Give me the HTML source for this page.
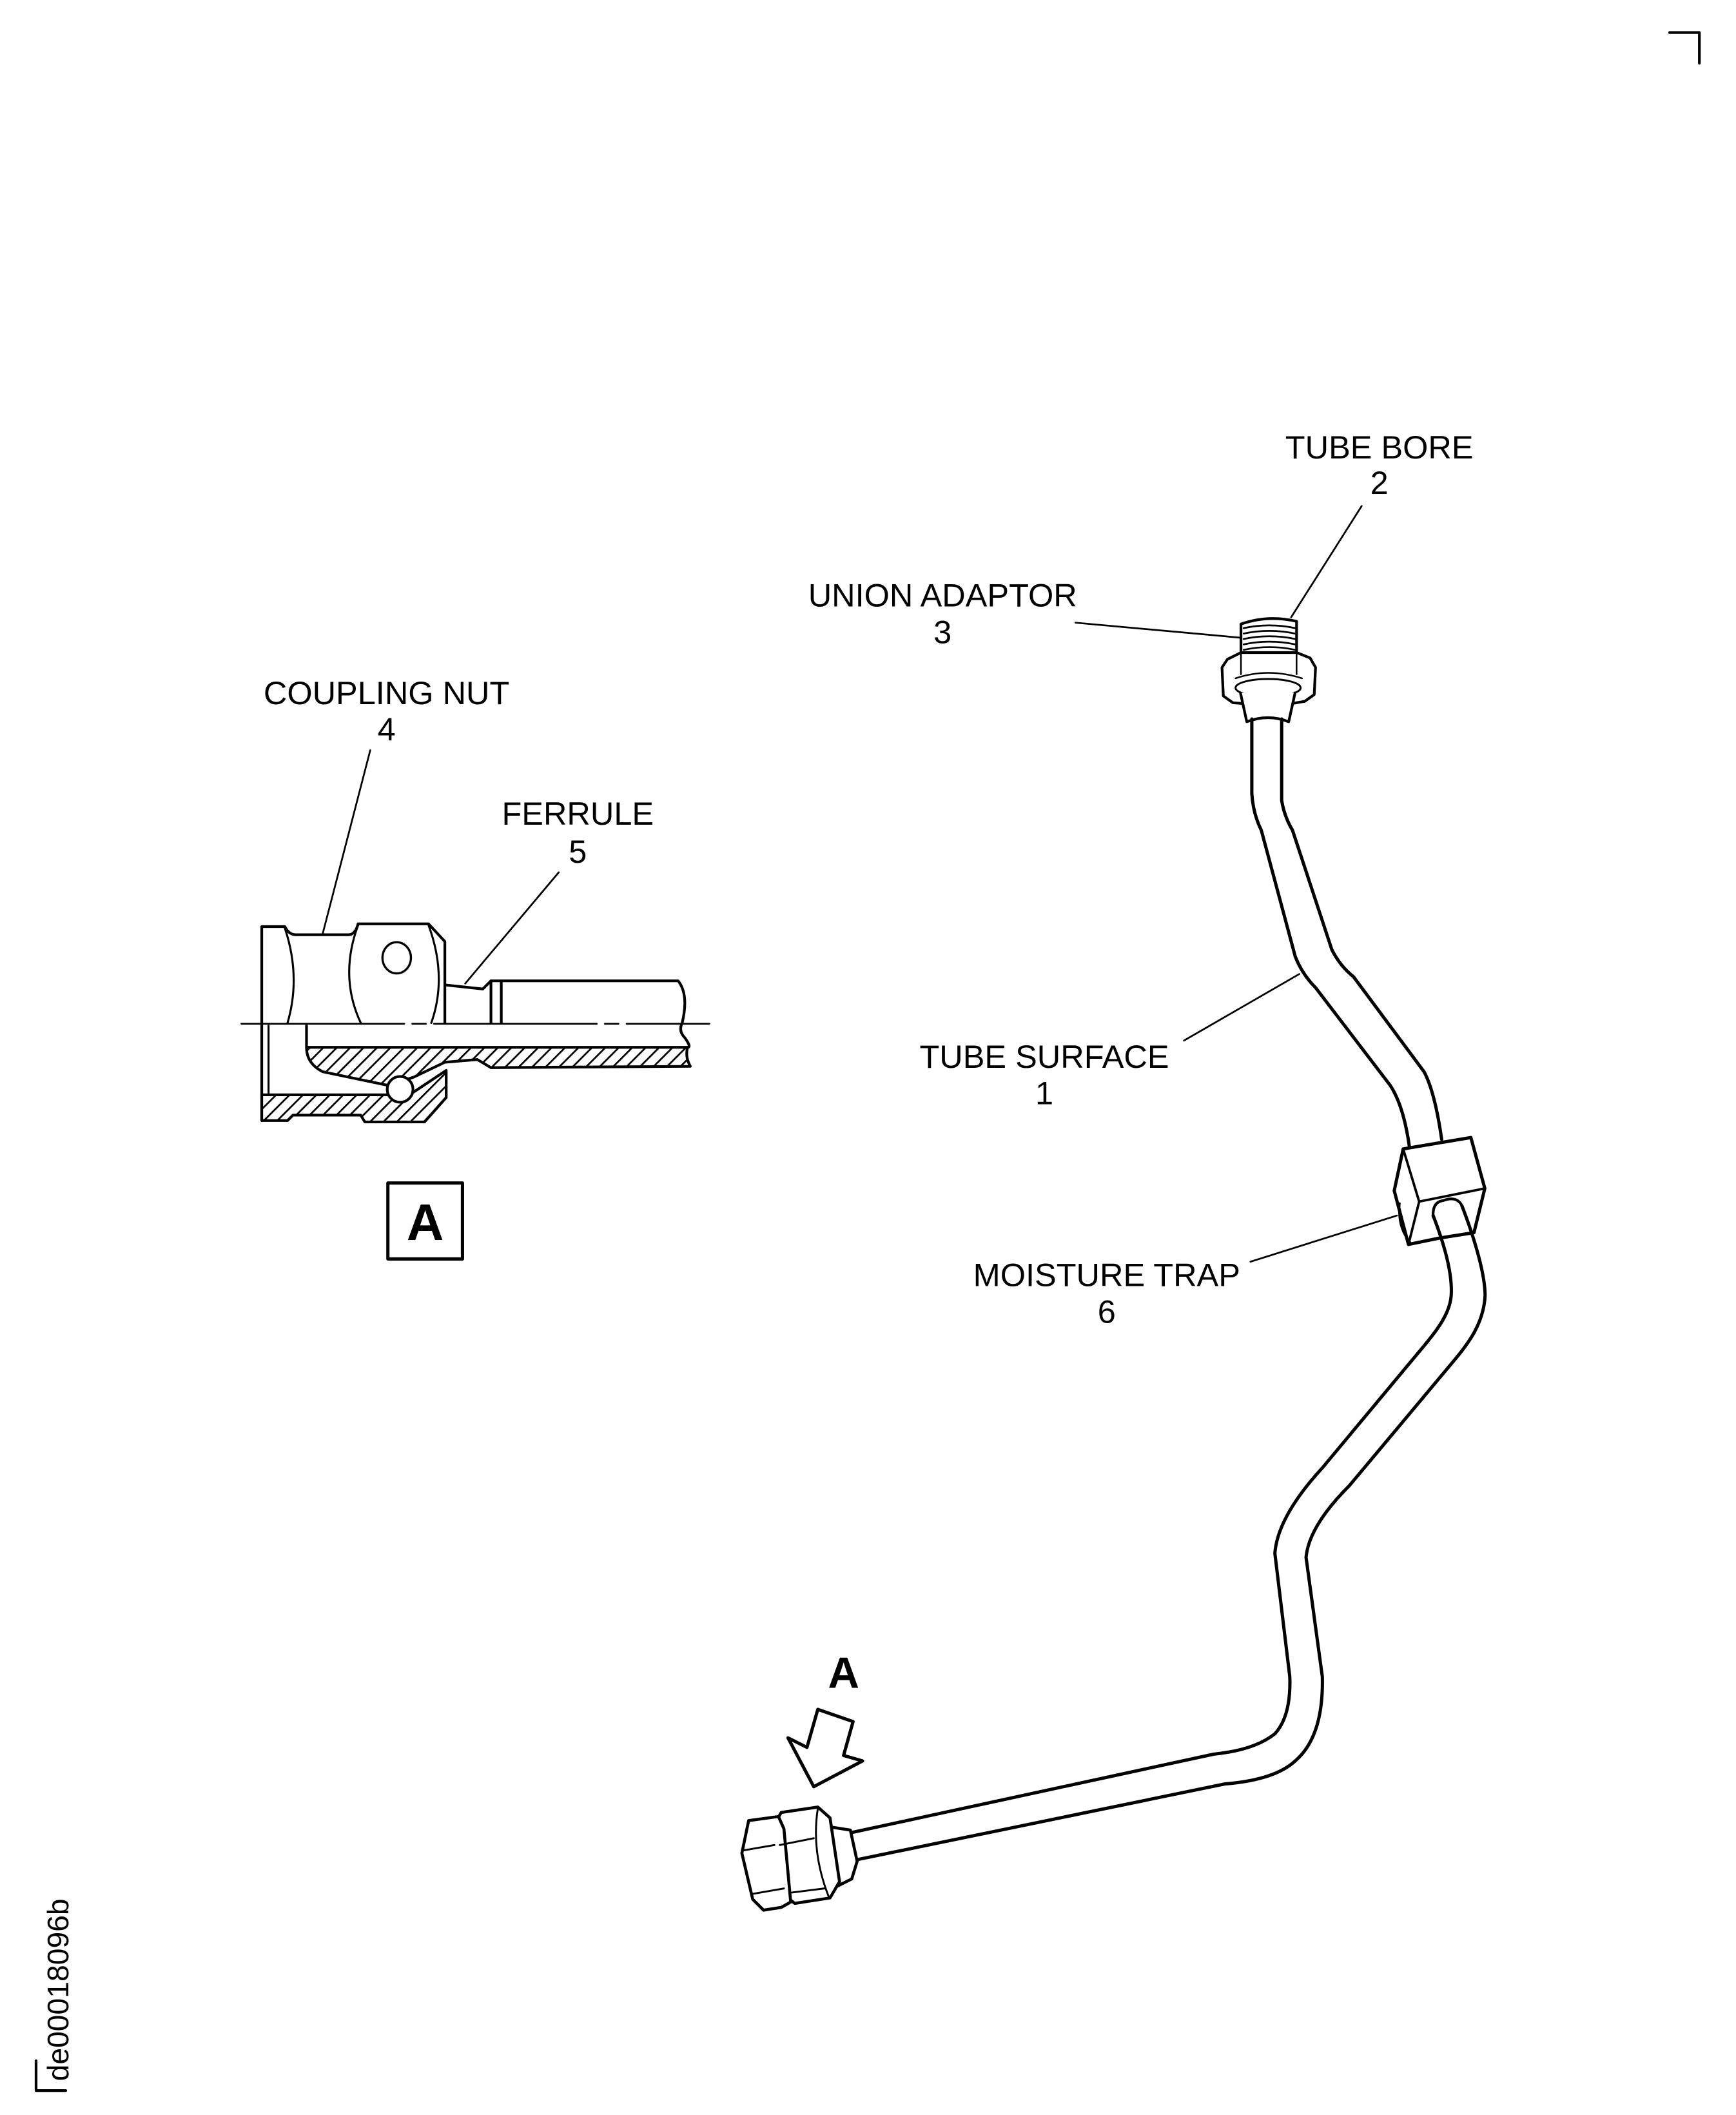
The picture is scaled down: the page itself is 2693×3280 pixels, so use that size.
<!DOCTYPE html>
<html><head><meta charset="utf-8"><style>
html,body{margin:0;padding:0;background:#fff}
svg{display:block}
text{font-family:"Liberation Sans",Arial,sans-serif;fill:#000}
</style></head><body>
<svg xmlns="http://www.w3.org/2000/svg" width="2693" height="3280" viewBox="0 0 1280 1559">
<defs>
<pattern id="h" patternUnits="userSpaceOnUse" width="7" height="7" patternTransform="rotate(45)">
<rect width="7" height="7" fill="#fff"/><line x1="0" y1="0" x2="0" y2="7" stroke="#000" stroke-width="2.6"/>
</pattern>
</defs>
<g fill="none" stroke="#000" stroke-linejoin="round" stroke-linecap="round">
<!-- corner marks -->
<path d="M1231,24 H1253 V46.6" stroke-width="2"/>
<path d="M26.6,1519 V1541 H48.5" stroke-width="2"/>

<!-- leader lines -->
<g stroke-width="1.3">
<line x1="1004" y1="373" x2="952" y2="455"/>
<line x1="793" y1="459" x2="914" y2="470"/>
<line x1="273" y1="553" x2="238" y2="688"/>
<line x1="412" y1="643" x2="343" y2="725"/>
<line x1="873" y1="767" x2="958" y2="718"/>
<line x1="922" y1="930" x2="1030" y2="896"/>
</g>

<!-- DETAIL A -->
<g stroke-width="2">
<path d="M193,754 V683 H210 Q213,689 218,689 H257 Q262,689 264,681 H316 L328,694 V754"/>
<path d="M328,726 L356,729 L362,723 H500 Q508,733 503,754"/>
<line x1="362" y1="723" x2="362" y2="754"/>
<line x1="369.6" y1="723" x2="369.6" y2="754"/>
<path d="M210,684 Q222,720 212,754" stroke-width="1.5"/>
<path d="M264,682 Q250,720 266,754" stroke-width="1.5"/>
<path d="M316,682 Q330,720 318,754" stroke-width="1.5"/>
<line x1="178" y1="754.6" x2="523" y2="754.6" stroke-width="1.3" stroke-dasharray="120 6 10 6"/>
<path d="M193,754 V826" />
<line x1="198" y1="756" x2="198" y2="807" stroke-width="1.5"/>
<path d="M226,756 V772"/>
<path d="M226,772 L507,772 Q505,779 509,786 L362,787 L352,781 L328,783 L305,794 L286,800 L238,790 Q226,784 226,772 Z" fill="url(#h)"/>
<path d="M193,807 L285,807 L305,805 L329,789 L329,809 L313,827 L269,827 L266,822 L216,822 L212,826 L193,826 Z" fill="url(#h)"/>
<circle cx="295" cy="803" r="9.5" fill="#fff"/>
<ellipse cx="292.5" cy="706" rx="10.5" ry="11.5" stroke-width="1.6"/>
<path d="M503,754 Q500,760 505,765 Q510,772 507,772"/>
<rect x="286" y="872" width="55" height="56" stroke-width="2.4"/>
</g>

<!-- UNION ADAPTOR top fitting -->
<g stroke-width="2">
<path d="M915,480 V460 Q935,453 956,458 V480"/>
<g stroke-width="1.3">
<path d="M917,463 Q936,459 955,463"/><path d="M917,467 Q936,463 955,467"/>
<path d="M917,471 Q936,467 955,471"/><path d="M917,475 Q936,471 955,475"/>
<path d="M917,479 Q936,475 955,479"/>
</g>
<path d="M901,492 L905,486 L915,481 H956 L966,485 L970,492 L969,512 L962,517 L950,519 H922 L909,518 L902,513 Z" fill="#fff"/>
<line x1="915" y1="482" x2="915" y2="497" stroke-width="1.2"/>
<line x1="956" y1="482" x2="956" y2="497" stroke-width="1.2"/>
<path d="M911,500 Q935,492 960,500" stroke-width="1.2"/>
<ellipse cx="935" cy="507" rx="24" ry="6.5" stroke-width="1.4"/>
<path d="M914.6,510.7 L919.3,532 Q935,526 950.2,532 L954.9,510.7" fill="#fff"/>
</g>

<!-- TUBE upper -->
<g stroke-width="2.4">
<path d="M923,530 V585 Q924,600 930,612 L955,705 Q960,718 970,728 L1025,800 Q1035,815 1039.3,846"/>
<path d="M945,530 V590 Q947,602 953,612 L982,700 Q988,712 998,720 L1050,790 Q1058,805 1063,840"/>
</g>

<!-- MOISTURE TRAP -->
<g stroke-width="2.4">
<ellipse cx="1051" cy="906" rx="12" ry="7" stroke-width="2"/>
<path d="M1041,904 Q1051,910 1061,904" stroke-width="1.3"/>
<path d="M1041,908 Q1051,913 1061,908" stroke-width="1.3"/>
<path d="M1034.6,846.9 L1084.5,838.5 L1094.8,876 L1086.8,908.6 L1061.4,912.6 L1038.5,917.3 L1028,877.7 Z" fill="#fff"/>
<path d="M1034.6,846.9 L1046.4,885.7 L1094.8,876" stroke-width="1.8"/>
<path d="M1046.4,885.7 L1038.5,917.3" stroke-width="1.8"/>
<path d="M1032,887 Q1030,905 1040,916" stroke-width="1.5"/>
</g>

<!-- TUBE lower -->
<g stroke-width="2.4">
<path d="M1056.7,897 Q1056,886 1064,885 Q1072,882 1076,886 Q1078,888 1078,890" fill="#fff" stroke-width="2"/>
<path d="M1056.7,896 C1066,920 1071,940 1070,955 C1069,968 1060,980 1050,992 L975,1082 Q942,1118 940,1145 L951,1236 Q952,1265 940,1278 Q925,1290 895,1293 L627,1351"/>
<path d="M1078,889 C1088,915 1095,940 1095,955 C1094,975 1083,990 1072,1003 L995,1095 Q965,1125 963,1148 L975,1236 Q976,1280 955,1298 Q940,1312 903,1315 L631,1371"/>
</g>

<!-- bottom nut -->
<g stroke-width="2.2" fill="#fff">
<path d="M608,1346 L627,1349 L632,1372 L628,1385 L612,1393 Z"/>
<path d="M576,1336 L603,1332 L612,1340 L619,1387 L612,1399 L586,1403 L576,1395 L568,1350 Z"/>
<path d="M552,1342 L574,1339 L578,1348 L583,1402 L576,1406 L563,1408 L555,1400 L547,1366 Z"/>
<path d="M548,1364 L571,1360 M555,1396 L578,1392 M575,1360 L600,1355 M584,1395 L608,1392" fill="none" stroke-width="1.4"/>
<path d="M603,1333 Q598,1365 611,1398" fill="none" stroke-width="1.4"/>
</g>

<!-- arrow A -->
<path d="M603,1260 L629,1269 L622,1294 L636,1298 L600,1317 L581,1281 L595,1288 Z" stroke-width="2.4"/>
</g>

<!-- labels -->
<g font-size="24" text-anchor="middle">
<text x="1017" y="338">TUBE BORE</text><text x="1017" y="364">2</text>
<text x="695" y="447">UNION ADAPTOR</text><text x="695" y="474">3</text>
<text x="285" y="519">COUPLING NUT</text><text x="285" y="546">4</text>
<text x="426" y="608">FERRULE</text><text x="426" y="636">5</text>
<text x="770" y="787">TUBE SURFACE</text><text x="770" y="814">1</text>
<text x="816" y="948">MOISTURE TRAP</text><text x="816" y="975">6</text>
</g>
<text x="622" y="1244" font-size="32" font-weight="bold" text-anchor="middle">A</text>
<text x="313.5" y="914" font-size="38" font-weight="bold" text-anchor="middle">A</text>
<text transform="translate(50.5,1534) rotate(-90)" font-size="22">de00018096b</text>
</svg>
</body></html>
